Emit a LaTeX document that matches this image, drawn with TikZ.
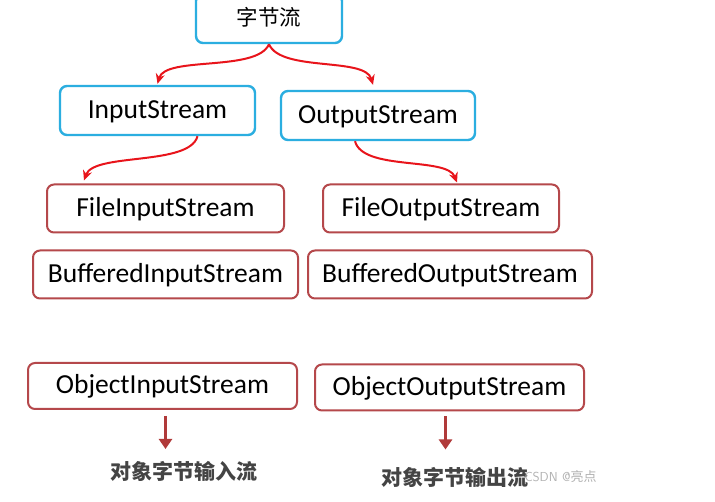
\documentclass[tikz,border=0pt]{standalone}
\usepackage{fontspec}
\setmainfont{Carlito}
\newfontfamily\cjk{Noto Sans CJK SC}
\usetikzlibrary{arrows.meta,calc}
\definecolor{boxblue}{HTML}{2BAEE0}
\definecolor{boxred}{HTML}{B5484B}
\definecolor{arrred}{HTML}{E8141B}
\definecolor{darrow}{HTML}{B03A3A}
\definecolor{lbl}{HTML}{444444}
\begin{document}
\begin{tikzpicture}[x=1pt,y=-1pt,
  bluebox/.style={draw=boxblue,line width=2.4pt,rounded corners=7pt,fill=white,
    minimum height=49pt,inner sep=0pt,text height=16pt,text depth=0pt,font=\fontsize{27.5}{32}\selectfont},
  redbox/.style={draw=boxred,line width=2pt,rounded corners=7pt,fill=white,
    minimum height=48pt,inner sep=0pt,text height=16pt,text depth=0pt,font=\fontsize{27.5}{32}\selectfont},
  curvearr/.style={draw=arrred,line width=2pt,-{Stealth[length=10pt,width=9pt]}},
  downarr/.style={draw=darrow,line width=3pt,-{Triangle[length=10pt,width=13pt]}},
  cnlabel/.style={font=\cjk\bfseries\fontsize{21}{25}\selectfont,text=lbl}
]
\useasboundingbox (0,0) rectangle (715,502);
\fill[white] (0,0) rectangle (715,502);

\node[bluebox,minimum width=146pt,text height=14pt,font=\cjk\fontsize{21.5}{25}\selectfont] (root) at (269,18.5) {字节流};
\node[bluebox,minimum width=195pt] (in) at (157.5,110.5) {InputStream};
\node[bluebox,minimum width=194pt] (out) at (378,115.5) {OutputStream};

\node[redbox,minimum width=237pt] (fin) at (165.5,208.5) {FileInputStream};
\node[redbox,minimum width=236pt] (fout) at (441,208.5) {FileOutputStream};
\node[redbox,minimum width=265pt] (bin) at (165.5,274.5) {BufferedInputStream};
\node[redbox,minimum width=284pt] (bout) at (450,274.5) {BufferedOutputStream};
\node[redbox,minimum width=269pt,minimum height=46pt] (oin) at (162.5,386) {ObjectInputStream};
\node[redbox,minimum width=269pt,minimum height=46pt] (oout) at (449.5,387.5) {ObjectOutputStream};

\node[cnlabel] (lin) at (184,471) {对象字节输入流};
\node[cnlabel] (lout) at (455,477) {对象字节输出流};
\node[font=\fontsize{13}{15}\selectfont\sffamily,text=black!30,anchor=west] (wm) at (521,477) {CSDN @\cjk 亮点};

\coordinate (c1) at ($(in.north)+(0,-1)$);
\coordinate (c2) at ($(out.north)+(-5,-5)$);
\draw[curvearr] (root.south) .. controls +(-12,28) and +(8,-28) .. (c1);
\draw[curvearr] (root.south) .. controls +(12,28) and +(-8,-28) .. (c2);
\coordinate (c3) at ($(fin.north west)+(38,-3)$);
\coordinate (c4) at ($(fout.north west)+(135,-1)$);
\draw[curvearr] ($(in.south)+(40,0)$) .. controls +(-8,30) and +(10,-28) .. (c3);
\draw[curvearr] ($(out.south)+(-23,0)$) .. controls +(8,30) and +(-10,-26) .. (c4);

\coordinate (d1) at ($(oin.south)+(3,6)$);
\coordinate (d2) at ($(oout.south)+(-4,5)$);
\draw[downarr] (d1) -- ($(d1)+(0,33)$);
\draw[downarr] (d2) -- ($(d2)+(0,33)$);
\end{tikzpicture}
\end{document}
